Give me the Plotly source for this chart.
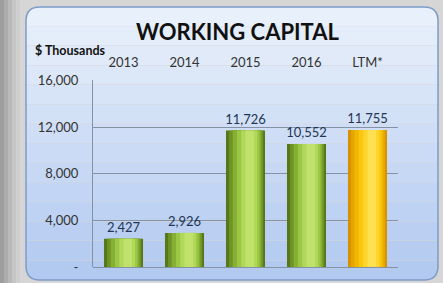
import plotly.graph_objects as go

categories = ["2013", "2014", "2015", "2016", "LTM*"]
values = [2427, 2926, 11726, 10552, 11755]
y_ticks = [0, 4000, 8000, 12000, 16000]
y_tick_labels = ["-", "4,000", "8,000", "12,000", "16,000"]

W, H = 443, 283
def px(x): return x / W
def py(y): return 1 - y / H

green_layers = ["#58771a", "#6e9426", "#85b033", "#9bc744", "#b0d85a", "#c0e26c"]
gold_layers = ["#d69200", "#e5a600", "#f2b800", "#fbc810", "#ffd42c", "#ffe050"]
widths = [0.64, 0.56, 0.47, 0.37, 0.26, 0.14]
offsets = [-0.32, -0.27, -0.21, -0.14, -0.07, 0.0]

fig = go.Figure()
for i, (w, o) in enumerate(zip(widths, offsets)):
    cols = [green_layers[i]] * 4 + [gold_layers[i]]
    fig.add_trace(go.Bar(
        x=categories, y=values, width=w, offset=o,
        marker=dict(color=cols, line=dict(width=0)),
        hoverinfo="skip", showlegend=False,
    ))

fig.add_trace(go.Scatter(
    x=categories, y=values, mode="markers+text",
    marker=dict(size=4, opacity=0),
    text=[f"{v:,}" for v in values], textposition="top center",
    textfont=dict(family="Lato", size=13, color="#1f3553"),
    showlegend=False, hoverinfo="skip", cliponaxis=False,
))

# ---- background panel (rounded, vertical gradient) ----
PL, PR, PT, PB, R = 26, 438, 7, 280, 14
def lerp(c1, c2, t):
    return "#" + "".join(f"{round(a + (b - a) * t):02x}" for a, b in zip(c1, c2))
top_c, bot_c = (234, 241, 251), (176, 200, 240)

shapes = []
for i, c in enumerate(["#9e9e9e", "#acacac", "#bababa", "#c6c6c6", "#cfcfcf"]):
    shapes.append(dict(type="rect", xref="paper", yref="paper",
                       x0=px(i * 4), x1=px(i * 4 + 4), y0=0, y1=1,
                       fillcolor=c, line=dict(width=0), layer="below"))

x0, x1 = px(PL), px(PR)
n = 14
edges = [PT + (PB - PT) * k / n for k in range(n + 1)]
for k in range(n):
    ya, yb_ = edges[k], edges[k + 1]
    col = lerp(top_c, bot_c, (k + 0.5) / n)
    if k == 0:
        p = (f"M {x0},{py(yb_)} L {x0},{py(PT+R)} Q {x0},{py(PT)} {px(PL+R)},{py(PT)} "
             f"L {px(PR-R)},{py(PT)} Q {x1},{py(PT)} {x1},{py(PT+R)} L {x1},{py(yb_)} Z")
    elif k == n - 1:
        p = (f"M {x0},{py(ya)} L {x0},{py(PB-R)} Q {x0},{py(PB)} {px(PL+R)},{py(PB)} "
             f"L {px(PR-R)},{py(PB)} Q {x1},{py(PB)} {x1},{py(PB-R)} L {x1},{py(ya)} Z")
    else:
        p = f"M {x0},{py(ya)} L {x1},{py(ya)} L {x1},{py(yb_)+0.002} L {x0},{py(yb_)+0.002} Z"
    shapes.append(dict(type="path", xref="paper", yref="paper", path=p,
                       fillcolor=col, line=dict(width=0), layer="below"))

border = (f"M {px(PL+R)},{py(PT)} L {px(PR-R)},{py(PT)} Q {x1},{py(PT)} {x1},{py(PT+R)} "
          f"L {x1},{py(PB-R)} Q {x1},{py(PB)} {px(PR-R)},{py(PB)} L {px(PL+R)},{py(PB)} "
          f"Q {x0},{py(PB)} {x0},{py(PB-R)} L {x0},{py(PT+R)} Q {x0},{py(PT)} {px(PL+R)},{py(PT)} Z")
shapes.append(dict(type="path", xref="paper", yref="paper", path=border,
                   line=dict(color="#7f9cc6", width=1.5), layer="below"))

fig.update_layout(
    width=W, height=H,
    margin=dict(l=0, r=0, t=0, b=0, pad=0, autoexpand=False),
    paper_bgcolor="#d6d6d6",
    plot_bgcolor="rgba(0,0,0,0)",
    barmode="overlay",
    shapes=shapes,
    xaxis=dict(domain=[px(93), px(398)], side="top", showgrid=False,
               tickfont=dict(family="Lato", size=13, color="#333333"),
               ticks="", showline=False, fixedrange=True, automargin=False,
               ticklabelstandoff=9),
    yaxis=dict(domain=[py(267), py(80)], range=[0, 16050],
               tickvals=y_ticks, ticktext=y_tick_labels,
               tickfont=dict(family="Lato", size=13, color="#333333"),
               showgrid=True, gridcolor="#8592a3", gridwidth=1.2,
               showline=True, linecolor="#8592a3", linewidth=1.2,
               zeroline=True, zerolinecolor="#8592a3", zerolinewidth=1.2,
               ticks="", ticklabelstandoff=11, fixedrange=True, automargin=False),
    annotations=[
        dict(text="<b>WORKING CAPITAL</b>", xref="paper", yref="paper",
             x=px(237), y=py(31), yanchor="middle", showarrow=False,
             font=dict(family="Lato", size=22, color="#111111")),
        dict(text="<b>$ Thousands</b>", xref="paper", yref="paper",
             x=px(33), y=py(50), xanchor="left", yanchor="middle", showarrow=False,
             font=dict(family="Lato", size=12.5, color="#111111")),
    ],
)

css = ("var s=document.createElement('style');"
       "s.textContent='html,body{margin:0!important;padding:0!important;overflow:hidden;}"
       ".plotly-graph-div{position:fixed!important;top:0;left:0;}';"
       "document.head.appendChild(s);")
fig.write_html("out.html", config={"displayModeBar": False}, post_script=css)
